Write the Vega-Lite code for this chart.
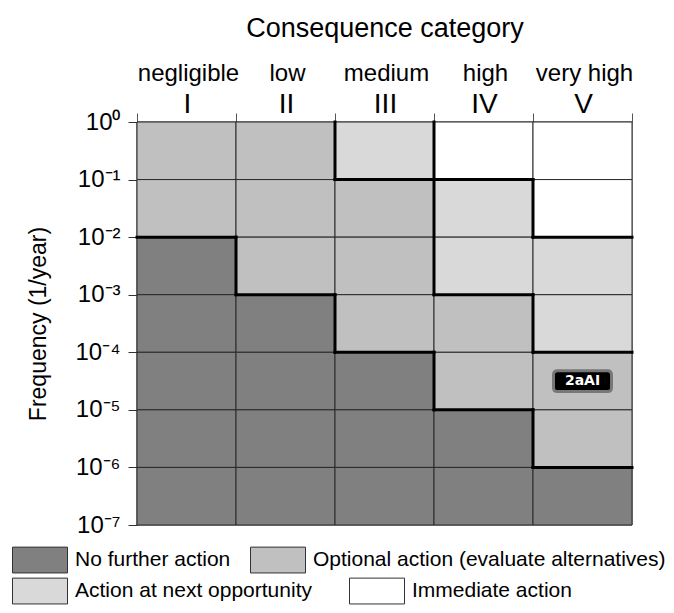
{
  "$schema": "https://vega.github.io/schema/vega-lite/v6.json",
  "width": 495,
  "height": 403,
  "autosize": {"type": "none"},
  "padding": {"left": 137, "top": 122, "right": 42, "bottom": 88},
  "background": "white",
  "config": {
    "font": "Liberation Sans",
    "view": {"stroke": null}
  },
  "datasets": {
    "cells": [
      {"c": "I", "x": 0, "x2": 1, "y": 1, "y2": 0.1, "cat": "Optional action (evaluate alternatives)"},
      {"c": "I", "x": 0, "x2": 1, "y": 0.1, "y2": 0.01, "cat": "Optional action (evaluate alternatives)"},
      {"c": "I", "x": 0, "x2": 1, "y": 0.01, "y2": 0.001, "cat": "No further action"},
      {"c": "I", "x": 0, "x2": 1, "y": 0.001, "y2": 0.0001, "cat": "No further action"},
      {"c": "I", "x": 0, "x2": 1, "y": 0.0001, "y2": 0.00001, "cat": "No further action"},
      {"c": "I", "x": 0, "x2": 1, "y": 0.00001, "y2": 0.000001, "cat": "No further action"},
      {"c": "I", "x": 0, "x2": 1, "y": 0.000001, "y2": 0.0000001, "cat": "No further action"},
      {"c": "II", "x": 1, "x2": 2, "y": 1, "y2": 0.1, "cat": "Optional action (evaluate alternatives)"},
      {"c": "II", "x": 1, "x2": 2, "y": 0.1, "y2": 0.01, "cat": "Optional action (evaluate alternatives)"},
      {"c": "II", "x": 1, "x2": 2, "y": 0.01, "y2": 0.001, "cat": "Optional action (evaluate alternatives)"},
      {"c": "II", "x": 1, "x2": 2, "y": 0.001, "y2": 0.0001, "cat": "No further action"},
      {"c": "II", "x": 1, "x2": 2, "y": 0.0001, "y2": 0.00001, "cat": "No further action"},
      {"c": "II", "x": 1, "x2": 2, "y": 0.00001, "y2": 0.000001, "cat": "No further action"},
      {"c": "II", "x": 1, "x2": 2, "y": 0.000001, "y2": 0.0000001, "cat": "No further action"},
      {"c": "III", "x": 2, "x2": 3, "y": 1, "y2": 0.1, "cat": "Action at next opportunity"},
      {"c": "III", "x": 2, "x2": 3, "y": 0.1, "y2": 0.01, "cat": "Optional action (evaluate alternatives)"},
      {"c": "III", "x": 2, "x2": 3, "y": 0.01, "y2": 0.001, "cat": "Optional action (evaluate alternatives)"},
      {"c": "III", "x": 2, "x2": 3, "y": 0.001, "y2": 0.0001, "cat": "Optional action (evaluate alternatives)"},
      {"c": "III", "x": 2, "x2": 3, "y": 0.0001, "y2": 0.00001, "cat": "No further action"},
      {"c": "III", "x": 2, "x2": 3, "y": 0.00001, "y2": 0.000001, "cat": "No further action"},
      {"c": "III", "x": 2, "x2": 3, "y": 0.000001, "y2": 0.0000001, "cat": "No further action"},
      {"c": "IV", "x": 3, "x2": 4, "y": 1, "y2": 0.1, "cat": "Immediate action"},
      {"c": "IV", "x": 3, "x2": 4, "y": 0.1, "y2": 0.01, "cat": "Action at next opportunity"},
      {"c": "IV", "x": 3, "x2": 4, "y": 0.01, "y2": 0.001, "cat": "Action at next opportunity"},
      {"c": "IV", "x": 3, "x2": 4, "y": 0.001, "y2": 0.0001, "cat": "Optional action (evaluate alternatives)"},
      {"c": "IV", "x": 3, "x2": 4, "y": 0.0001, "y2": 0.00001, "cat": "Optional action (evaluate alternatives)"},
      {"c": "IV", "x": 3, "x2": 4, "y": 0.00001, "y2": 0.000001, "cat": "No further action"},
      {"c": "IV", "x": 3, "x2": 4, "y": 0.000001, "y2": 0.0000001, "cat": "No further action"},
      {"c": "V", "x": 4, "x2": 5, "y": 1, "y2": 0.1, "cat": "Immediate action"},
      {"c": "V", "x": 4, "x2": 5, "y": 0.1, "y2": 0.01, "cat": "Immediate action"},
      {"c": "V", "x": 4, "x2": 5, "y": 0.01, "y2": 0.001, "cat": "Action at next opportunity"},
      {"c": "V", "x": 4, "x2": 5, "y": 0.001, "y2": 0.0001, "cat": "Action at next opportunity"},
      {"c": "V", "x": 4, "x2": 5, "y": 0.0001, "y2": 0.00001, "cat": "Optional action (evaluate alternatives)"},
      {"c": "V", "x": 4, "x2": 5, "y": 0.00001, "y2": 0.000001, "cat": "Optional action (evaluate alternatives)"},
      {"c": "V", "x": 4, "x2": 5, "y": 0.000001, "y2": 0.0000001, "cat": "No further action"}
    ],
    "bounds": [
      {"x": 0, "x2": 1, "y": 0.01, "y2": 0.01},
      {"x": 1, "x2": 2, "y": 0.001, "y2": 0.001},
      {"x": 2, "x2": 3, "y": 0.1, "y2": 0.1},
      {"x": 2, "x2": 3, "y": 0.0001, "y2": 0.0001},
      {"x": 3, "x2": 4, "y": 0.1, "y2": 0.1},
      {"x": 3, "x2": 4, "y": 0.001, "y2": 0.001},
      {"x": 3, "x2": 4, "y": 0.00001, "y2": 0.00001},
      {"x": 4, "x2": 5, "y": 0.01, "y2": 0.01},
      {"x": 4, "x2": 5, "y": 0.0001, "y2": 0.0001},
      {"x": 4, "x2": 5, "y": 0.000001, "y2": 0.000001},
      {"x": 1, "x2": 1, "y": 0.01, "y2": 0.001},
      {"x": 2, "x2": 2, "y": 1, "y2": 0.1},
      {"x": 2, "x2": 2, "y": 0.001, "y2": 0.0001},
      {"x": 3, "x2": 3, "y": 1, "y2": 0.001},
      {"x": 3, "x2": 3, "y": 0.0001, "y2": 0.00001},
      {"x": 4, "x2": 4, "y": 0.1, "y2": 0.01},
      {"x": 4, "x2": 4, "y": 0.001, "y2": 0.0001},
      {"x": 4, "x2": 4, "y": 0.00001, "y2": 0.000001}
    ],
    "labels": [
      {"label": "2aAI", "x": 4.5, "y": 0.0000316}
    ]
  },
  "resolve": {
    "scale": {"fill": "independent"},
    "legend": {"fill": "independent"},
    "axis": {"x": "independent"}
  },
  "layer": [
    {
      "data": {"name": "cells"},
      "mark": {"type": "rect", "stroke": "#2a2a2a", "strokeWidth": 1, "opacity": 1},
      "encoding": {
        "x": {
          "field": "x", "type": "quantitative",
          "scale": {"domain": [0, 5], "nice": false, "zero": false},
          "axis": {
            "orient": "top",
            "title": null,
            "values": [0, 1, 2, 3, 4, 5],
            "labelExpr": "datum.value == 0 ? 'I' : datum.value == 1 ? 'II' : datum.value == 2 ? 'III' : datum.value == 3 ? 'IV' : datum.value == 4 ? 'V' : ''",
            "labelOffset": 50,
            "labelFontSize": 28,
            "labelBaseline": "alphabetic",
            "labelColor": "#000",
            "labelPadding": 1,
            "labelFlush": false,
            "labelOverlap": false,
            "labelBound": false,
            "tickSize": 9,
            "tickColor": "#555",
            "tickWidth": 1,
            "domain": false,
            "grid": false
          }
        },
        "x2": {"field": "x2"},
        "y": {
          "field": "y", "type": "quantitative",
          "scale": {"type": "log", "domain": [0.0000001, 1], "nice": false},
          "axis": {
            "title": "Frequency (1/year)",
            "titleFontSize": 23,
            "titleFontWeight": "normal",
            "titleColor": "#000",
            "titlePadding": 24,
            "values": [1, 0.1, 0.01, 0.001, 0.0001, 0.00001, 0.000001, 0.0000001],
            "labelExpr": "['10⁰','10⁻¹','10⁻²','10⁻³','10⁻⁴','10⁻⁵','10⁻⁶','10⁻⁷'][round(-log(datum.value)/LN10)]",
            "labelFontSize": 24,
            "labelColor": "#000",
            "labelPadding": 8,
            "labelOverlap": false,
            "labelFlush": false,
            "tickSize": 9,
            "tickColor": "#333",
            "domain": false,
            "grid": false
          }
        },
        "y2": {"field": "y2"},
        "fill": {
          "field": "cat", "type": "nominal",
          "scale": {
            "domain": ["No further action", "Optional action (evaluate alternatives)", "Action at next opportunity", "Immediate action"],
            "range": ["#808080", "#c0c0c0", "#d9d9d9", "#ffffff"]
          },
          "legend": {
            "orient": "none",
            "legendX": -125,
            "legendY": 410,
            "title": null,
            "values": ["No further action", "Optional action (evaluate alternatives)"],
            "direction": "horizontal",
            "columnPadding": 17,
            "symbolType": "M-1,-0.47H1V0.47H-1Z",
            "symbolSize": 3025,
            "symbolStrokeColor": "#333",
            "symbolStrokeWidth": 1,
            "symbolOpacity": 1,
            "labelFontSize": 21,
            "labelColor": "#000",
            "labelOffset": 7,
            "labelLimit": 400
          }
        }
      }
    },
    {
      "data": {"name": "cells"},
      "mark": {"type": "rect", "stroke": "#2a2a2a", "strokeWidth": 1, "opacity": 1},
      "encoding": {
        "x": {
          "field": "x", "type": "quantitative",
          "axis": {
            "orient": "top",
            "title": "Consequence category",
            "titleFontSize": 27,
            "titleFontWeight": "normal",
            "titleColor": "#000",
            "titlePadding": 19,
            "values": [0, 1, 2, 3, 4],
            "labelExpr": "datum.value == 0 ? 'negligible' : datum.value == 1 ? 'low' : datum.value == 2 ? 'medium' : datum.value == 3 ? 'high' : datum.value == 4 ? 'very high' : ''",
            "labelOffset": 51,
            "labelFontSize": 24,
            "labelBaseline": "alphabetic",
            "labelColor": "#000",
            "labelPadding": 42,
            "labelFlush": false,
            "labelOverlap": false,
            "labelBound": false,
            "ticks": false,
            "tickSize": 0,
            "domain": false,
            "grid": false
          }
        },
        "x2": {"field": "x2"},
        "y": {"field": "y", "type": "quantitative"},
        "y2": {"field": "y2"},
        "fill": {
          "field": "cat", "type": "nominal",
          "scale": {
            "domain": ["No further action", "Optional action (evaluate alternatives)", "Action at next opportunity", "Immediate action"],
            "range": ["#808080", "#c0c0c0", "#d9d9d9", "#ffffff"]
          },
          "legend": {
            "orient": "none",
            "legendX": -125,
            "legendY": 441,
            "title": null,
            "values": ["Action at next opportunity", "Immediate action"],
            "direction": "horizontal",
            "columnPadding": 35,
            "symbolType": "M-1,-0.47H1V0.47H-1Z",
            "symbolSize": 3025,
            "symbolStrokeColor": "#333",
            "symbolStrokeWidth": 1,
            "symbolOpacity": 1,
            "labelFontSize": 21,
            "labelColor": "#000",
            "labelOffset": 7,
            "labelLimit": 400
          }
        }
      }
    },
    {
      "data": {"name": "bounds"},
      "mark": {"type": "rule", "color": "#000", "strokeWidth": 3, "strokeCap": "square"},
      "encoding": {
        "x": {"field": "x", "type": "quantitative", "axis": null},
        "x2": {"field": "x2"},
        "y": {"field": "y", "type": "quantitative"},
        "y2": {"field": "y2"}
      }
    },
    {
      "data": {"name": "labels"},
      "mark": {
        "type": "point",
        "shape": "M-0.86,-0.36H0.86Q1,-0.36 1,-0.22V0.22Q1,0.36 0.86,0.36H-0.86Q-1,0.36 -1,0.22V-0.22Q-1,-0.36 -0.86,-0.36Z",
        "size": 3364,
        "filled": true,
        "fill": "#000",
        "stroke": "#777",
        "strokeWidth": 3,
        "opacity": 1
      },
      "encoding": {
        "x": {"field": "x", "type": "quantitative", "axis": null},
        "y": {"field": "y", "type": "quantitative"}
      }
    },
    {
      "data": {"name": "labels"},
      "mark": {"type": "text", "color": "#fff", "font": "DejaVu Sans", "fontWeight": "bold", "fontSize": 14, "baseline": "middle", "align": "center"},
      "encoding": {
        "x": {"field": "x", "type": "quantitative", "axis": null},
        "y": {"field": "y", "type": "quantitative"},
        "text": {"field": "label"}
      }
    }
  ]
}
